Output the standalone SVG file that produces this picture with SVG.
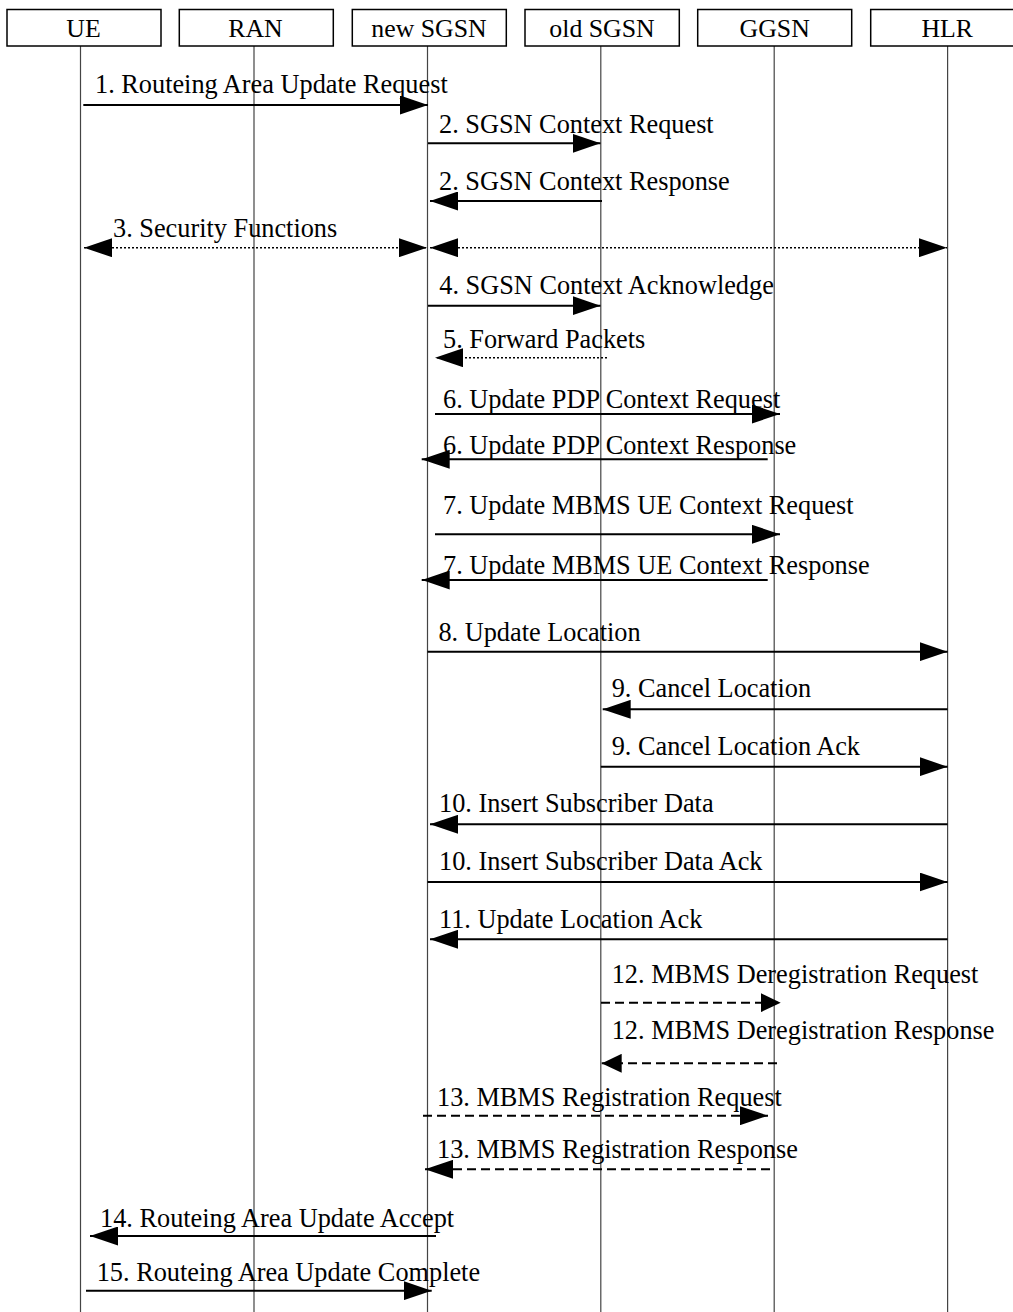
<svg xmlns="http://www.w3.org/2000/svg" width="1013" height="1312" viewBox="0 0 1013 1312">
<style>
  .box { fill: #fff; stroke: #000; stroke-width: 1.5; }
  .life { stroke: #444; stroke-width: 1.2; }
  .hdr { font-family: "Liberation Serif", "Times New Roman", serif; font-size: 25.8px; text-anchor: middle; fill: #000; }
  .lbl { font-family: "Liberation Serif", "Times New Roman", serif; font-size: 26.3px; fill: #000; }
  .msg { stroke: #000; stroke-width: 2; fill: none; marker-end: url(#ah); }
  .dot { stroke: #000; stroke-width: 1.6; stroke-dasharray: 2 2; fill: none; }
  .dash { stroke: #000; stroke-width: 2; stroke-dasharray: 9 5; fill: none; }
</style>
<defs>
  <marker id="ah" viewBox="0 0 28 19" refX="28" refY="9.5" markerWidth="28" markerHeight="19" markerUnits="userSpaceOnUse" orient="auto">
    <path d="M0,0 L28,9.5 L0,19 z" fill="#000"/>
  </marker>
  <marker id="ahs" viewBox="0 0 28 19" refX="28" refY="9.5" markerWidth="28" markerHeight="19" markerUnits="userSpaceOnUse" orient="auto-start-reverse">
    <path d="M0,0 L28,9.5 L0,19 z" fill="#000"/>
  </marker>
  <marker id="ahshort" viewBox="0 0 20 19" refX="20" refY="9.5" markerWidth="20" markerHeight="19" markerUnits="userSpaceOnUse" orient="auto">
    <path d="M0,0 L20,9.5 L0,19 z" fill="#000"/>
  </marker>
</defs>
<rect x="0" y="0" width="1013" height="1312" fill="#fff"/>

<g id="node-UE">
  <line class="life" x1="80.5" y1="46" x2="80.5" y2="1312"/>
  <rect class="box" x="7" y="9.5" width="154" height="36.5"/>
  <text class="hdr" x="83.5" y="36.5">UE</text>
</g>
<g id="node-RAN">
  <line class="life" x1="254" y1="46" x2="254" y2="1312"/>
  <rect class="box" x="179.3" y="9.5" width="154" height="36.5"/>
  <text class="hdr" x="255.5" y="36.5">RAN</text>
</g>
<g id="node-newSGSN">
  <line class="life" x1="427.5" y1="46" x2="427.5" y2="1312"/>
  <rect class="box" x="352.3" y="9.5" width="154" height="36.5"/>
  <text class="hdr" x="429" y="36.5">new SGSN</text>
</g>
<g id="node-oldSGSN">
  <line class="life" x1="600.8" y1="46" x2="600.8" y2="1312"/>
  <rect class="box" x="525" y="9.5" width="154.3" height="36.5"/>
  <text class="hdr" x="602" y="36.5">old SGSN</text>
</g>
<g id="node-GGSN">
  <line class="life" x1="774.2" y1="46" x2="774.2" y2="1312"/>
  <rect class="box" x="697.7" y="9.5" width="154" height="36.5"/>
  <text class="hdr" x="774.7" y="36.5">GGSN</text>
</g>
<g id="node-HLR">
  <line class="life" x1="947.6" y1="46" x2="947.6" y2="1312"/>
  <rect class="box" x="870.7" y="9.5" width="154" height="36.5"/>
  <text class="hdr" x="947.3" y="36.5">HLR</text>
</g>

<g id="connectors">
  <line class="msg" x1="83.3" y1="105" x2="428" y2="105"/>
  <text class="lbl" x="95" y="93.3">1. Routeing Area Update Request</text>

  <line class="msg" x1="428" y1="143.3" x2="600.5" y2="143.3"/>
  <text class="lbl" x="439" y="133">2. SGSN Context Request</text>

  <line class="msg" x1="602" y1="201" x2="430" y2="201"/>
  <text class="lbl" x="439" y="190">2. SGSN Context Response</text>

  <line class="dot" x1="84" y1="247.7" x2="427" y2="247.7" marker-start="url(#ahs)" marker-end="url(#ahs)"/>
  <line class="dot" x1="430" y1="247.7" x2="947" y2="247.7" marker-start="url(#ahs)" marker-end="url(#ahs)"/>
  <text class="lbl" x="113" y="236.7">3. Security Functions</text>

  <line class="msg" x1="428" y1="305.7" x2="600.5" y2="305.7"/>
  <text class="lbl" x="439.3" y="294.3">4. SGSN Context Acknowledge</text>

  <line class="dot" x1="607" y1="357.7" x2="435" y2="357.7" marker-end="url(#ah)"/>
  <text class="lbl" x="443" y="348.3">5. Forward Packets</text>

  <line class="msg" x1="435" y1="414" x2="780" y2="414"/>
  <text class="lbl" x="443" y="408.3">6. Update PDP Context Request</text>

  <line class="msg" x1="767.7" y1="459.3" x2="421.7" y2="459.3"/>
  <text class="lbl" x="443" y="454">6. Update PDP Context Response</text>

  <line class="msg" x1="435" y1="534.3" x2="780" y2="534.3"/>
  <text class="lbl" x="443" y="514">7. Update MBMS UE Context Request</text>

  <line class="msg" x1="767.7" y1="580" x2="421.7" y2="580"/>
  <text class="lbl" x="443" y="574">7. Update MBMS UE Context Response</text>

  <line class="msg" x1="427.5" y1="651.7" x2="947.6" y2="651.7"/>
  <text class="lbl" x="438.4" y="640.7">8. Update Location</text>

  <line class="msg" x1="947.6" y1="709.3" x2="602.7" y2="709.3"/>
  <text class="lbl" x="611.7" y="697.3">9. Cancel Location</text>

  <line class="msg" x1="600.8" y1="766.7" x2="947.6" y2="766.7"/>
  <text class="lbl" x="611.7" y="755">9. Cancel Location Ack</text>

  <line class="msg" x1="947.6" y1="824.3" x2="430" y2="824.3"/>
  <text class="lbl" x="439" y="812.3">10. Insert Subscriber Data</text>

  <line class="msg" x1="427.5" y1="882" x2="947.6" y2="882"/>
  <text class="lbl" x="439" y="870">10. Insert Subscriber Data Ack</text>

  <line class="msg" x1="947.6" y1="939.3" x2="430" y2="939.3"/>
  <text class="lbl" x="439" y="927.8">11. Update Location Ack</text>

  <line class="dash" x1="601" y1="1002.7" x2="780.7" y2="1002.7" marker-end="url(#ahshort)"/>
  <text class="lbl" x="611.7" y="982.7">12. MBMS Deregistration Request</text>

  <line class="dash" x1="777" y1="1063.3" x2="601.7" y2="1063.3" marker-end="url(#ahshort)"/>
  <text class="lbl" x="611.7" y="1039.3">12. MBMS Deregistration Response</text>

  <line class="dash" x1="423" y1="1115.7" x2="768" y2="1115.7" marker-end="url(#ah)"/>
  <text class="lbl" x="437" y="1105.7">13. MBMS Registration Request</text>

  <line class="dash" x1="770" y1="1169.3" x2="425" y2="1169.3" marker-end="url(#ah)"/>
  <text class="lbl" x="437" y="1158.3">13. MBMS Registration Response</text>

  <line class="msg" x1="436" y1="1236" x2="90" y2="1236"/>
  <text class="lbl" x="100" y="1227.3">14. Routeing Area Update Accept</text>

  <line class="msg" x1="86" y1="1290.7" x2="431.7" y2="1290.7"/>
  <text class="lbl" x="96.7" y="1280.7">15. Routeing Area Update Complete</text>
</g>
</svg>
